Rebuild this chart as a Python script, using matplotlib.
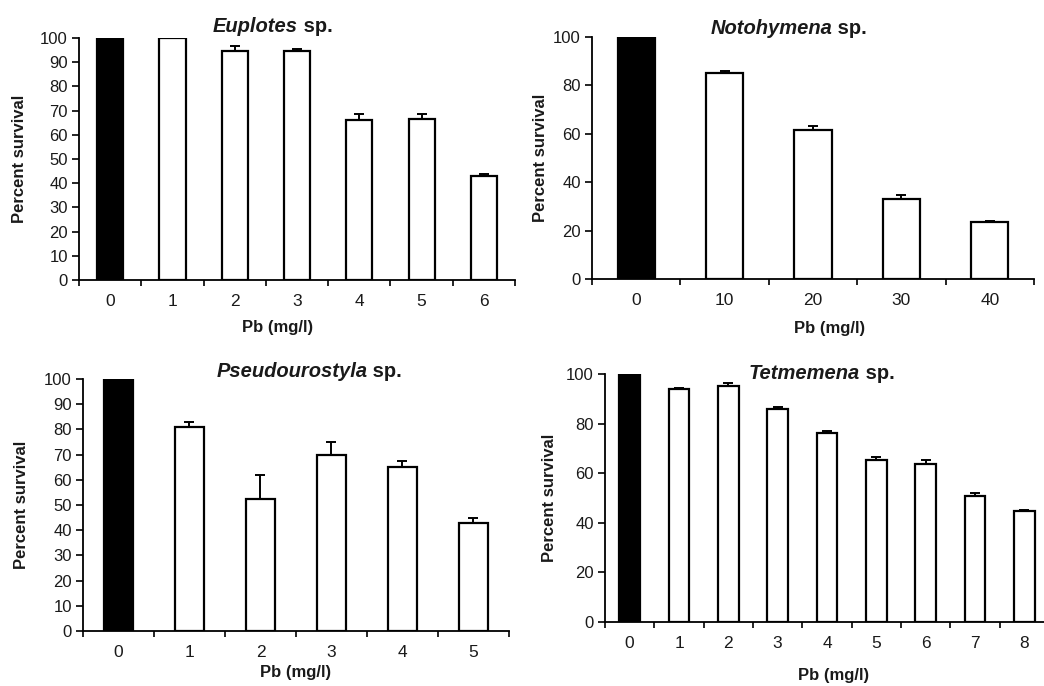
import numpy as np
import matplotlib
matplotlib.use("Agg")
import matplotlib.pyplot as plt

plt.rcParams['font.family'] = ['Liberation Sans', 'DejaVu Sans']

# Data (percent survival, upper error)
eup_labels = ["0", "1", "2", "3", "4", "5", "6"]
eup_vals = [100, 100, 94.6, 94.6, 66.3, 66.7, 42.9]
eup_err = [0, 0, 2.0, 0.9, 2.1, 1.8, 1.0]

noto_labels = ["0", "10", "20", "30", "40"]
noto_vals = [100, 85.1, 61.7, 33.2, 23.4]
noto_err = [0, 1.0, 1.4, 1.5, 0.7]

pseu_labels = ["0", "1", "2", "3", "4", "5"]
pseu_vals = [100, 81.1, 52.4, 69.8, 65.2, 42.7]
pseu_err = [0, 1.7, 9.5, 5.1, 2.3, 2.3]

tet_labels = ["0", "1", "2", "3", "4", "5", "6", "7", "8"]
tet_vals = [100, 94.0, 95.3, 85.9, 76.2, 65.4, 63.6, 50.9, 44.6]
tet_err = [0, 0.5, 1.2, 0.9, 0.8, 1.0, 1.6, 1.3, 0.5]

panels = [
    # name, labels, vals, err, axes rect, ytick step
    ("Euplotes", eup_labels, eup_vals, eup_err, [0.0757, 0.5918, 0.4176, 0.3528], 10),
    ("Notohymena", noto_labels, noto_vals, noto_err, [0.567, 0.5933, 0.4234, 0.3528], 20),
    ("Pseudourostyla", pseu_labels, pseu_vals, pseu_err, [0.0795, 0.0802, 0.408, 0.3673], 10),
    ("Tetmemena", tet_labels, tet_vals, tet_err, [0.5795, 0.0933, 0.4253, 0.3615], 20),
]
# text placement (figure fraction)
title_x = [0.285, 0.797, 0.352, 0.824]
title_y = [0.961, 0.959, 0.459, 0.456]
ylabel_x = [0.019, 0.518, 0.021, 0.526]
xlabel_x = [0.266, 0.795, 0.283, 0.798]
xlabel_y = [0.523, 0.521, 0.020, 0.0146]

fig = plt.figure(figsize=(10.44, 6.86), dpi=100)
txt = "#1a1a1a"

for i, (name, labels, vals, err, rect, step) in enumerate(panels):
    ax = fig.add_axes(rect)
    x = np.arange(len(vals))
    colors = ["black"] + ["white"] * (len(vals) - 1)
    ax.bar(x, vals, width=0.42, color=colors, edgecolor="black", linewidth=1.6, zorder=2)
    ax.errorbar(x[1:], vals[1:], yerr=[np.zeros(len(err) - 1), err[1:]], fmt="none",
                ecolor="black", elinewidth=1.4, capsize=3.5, capthick=1.4, zorder=1)
    ax.set_xlim(-0.5, len(vals) - 0.5)
    ax.set_ylim(0, 100)
    ax.set_yticks(np.arange(0, 101, step))
    ax.set_xticks(x)
    ax.set_xticklabels(labels)
    ax.set_xticks(np.arange(-0.5, len(vals), 1.0), minor=True)
    ax.tick_params(axis="x", which="major", length=0, pad=10, labelsize=12.5, labelcolor=txt)
    ax.tick_params(axis="x", which="minor", length=4, width=1.2, direction="out")
    ax.tick_params(axis="y", length=5, width=1.2, direction="out", labelsize=12, labelcolor=txt, pad=3)
    for s in ["top", "right"]:
        ax.spines[s].set_visible(False)
    for s in ["left", "bottom"]:
        ax.spines[s].set_linewidth(1.3)
    ax.spines["bottom"].set_zorder(3)

    fig.text(title_x[i], title_y[i], name, fontsize=14.5, fontweight="bold", style="italic",
             ha="right", va="center", color=txt)
    fig.text(title_x[i], title_y[i], " sp.", fontsize=14.5, fontweight="bold",
             ha="left", va="center", color=txt)

    cy = rect[1] + rect[3] / 2
    fig.text(ylabel_x[i], cy, "Percent survival", rotation=90, fontsize=12, fontweight="bold",
             ha="center", va="center", color=txt)
    fig.text(xlabel_x[i], xlabel_y[i], "Pb (mg/l)", fontsize=12, fontweight="bold",
             ha="center", va="center", color=txt)

fig.savefig("out.png", dpi=100)
